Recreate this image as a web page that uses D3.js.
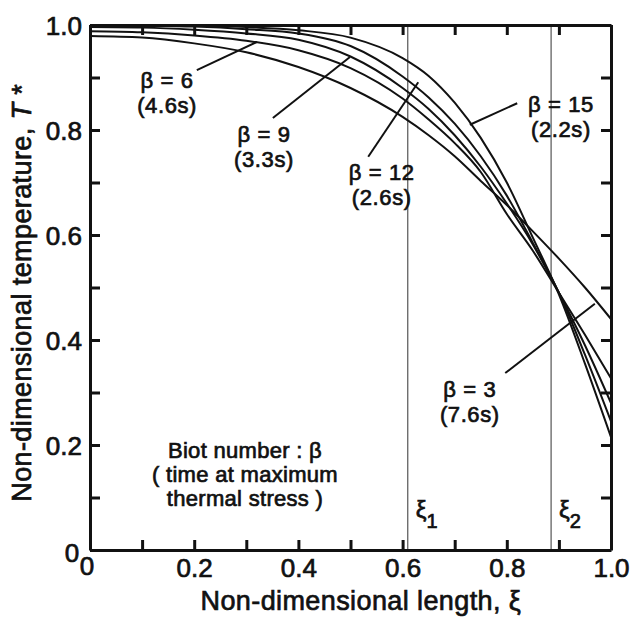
<!DOCTYPE html>
<html>
<head>
<meta charset="utf-8">
<script src="https://cdnjs.cloudflare.com/ajax/libs/d3/7.8.5/d3.min.js"></script>
<style>
  body { margin: 0; background: #fff; }
  svg text { font-family: "Liberation Sans", Arial, sans-serif; fill: #111; stroke: #111; stroke-width: 0.7px; }
</style>
</head>
<body>
<svg id="profile-chart" width="635" height="619"></svg>
<script>
// positions along the plate (non-dimensional length)
const xiValues = [0, 0.1, 0.2, 0.3, 0.4, 0.5, 0.6, 0.65, 0.7, 0.75, 0.8, 0.85, 0.9, 0.95, 1.0]

// temperature profiles, one per Biot number
const beta3  = [0.979, 0.976, 0.965, 0.948, 0.920, 0.880, 0.825, 0.790, 0.750, 0.703, 0.657, 0.607, 0.555, 0.500, 0.440]
const beta6  = [0.988, 0.986, 0.980, 0.970, 0.952, 0.918, 0.860, 0.820, 0.775, 0.720, 0.640, 0.570, 0.490, 0.410, 0.327]
const beta9  = [0.996, 0.995, 0.991, 0.984, 0.972, 0.940, 0.880, 0.840, 0.790, 0.730, 0.660, 0.582, 0.490, 0.390, 0.280]
const beta12 = [1.000, 0.999, 0.997, 0.992, 0.984, 0.960, 0.902, 0.862, 0.812, 0.750, 0.675, 0.585, 0.490, 0.372, 0.245]
const beta15 = [1.000, 1.000, 0.999, 0.996, 0.990, 0.976, 0.937, 0.903, 0.852, 0.785, 0.700, 0.595, 0.487, 0.355, 0.215]

const seriesNames = ["3", "6", "9", "12", "15"]
const seriesValues = [beta3, beta6, beta9, beta12, beta15]
const seriesTimes = ["7.6s", "4.6s", "3.3s", "2.6s", "2.2s"]

// label anchor (xi, T) and leader line (from -> to) for each series
const labelAnchors = [[0.729, 0.291], [0.148, 0.880], [0.334, 0.777], [0.560, 0.705], [0.904, 0.834]]
const leaderFrom = [[0.797, 0.337], [0.205, 0.914], [0.351, 0.823], [0.534, 0.749], [0.820, 0.851]]
const leaderTo   = [[0.969, 0.469], [0.321, 0.968], [0.499, 0.939], [0.630, 0.891], [0.729, 0.810]]

// positions of maximum stress
const xiMarks = [0.61, 0.885]
const xiMarkNames = ["1", "2"]

const tickValues = d3.range(0, 11).map(d => d / 10)
const labelValues = [0.2, 0.4, 0.6, 0.8, 1.0]
const legendLines = ["Biot number : β", "( time at maximum", "thermal stress )"]

let width = 635
let height = 619
let margin = { top: 25, right: 24, bottom: 69, left: 90 }
let svg = d3.select("#profile-chart")

let x = d3.scaleLinear()
    .domain([0, 1])
    .range([margin.left, width - margin.right])

let y = d3.scaleLinear()
    .domain([0, 1])
    .range([height - margin.bottom, margin.top])

svg.append("rect")
    .attr("width", width)
    .attr("height", height)
    .style("fill", "#fff")

// vertical marks xi1, xi2
svg.append("g")
  .attr("id", "xiMarks")
  .selectAll("line")
  .data(xiMarks)
  .join("line")
  .attr("x1", d => x(d))
  .attr("x2", d => x(d))
  .attr("y1", y(1))
  .attr("y2", y(0))
  .style("stroke", "#333")
  .style("stroke-width", "1px")

svg.append("g")
  .attr("id", "xiLabels")
  .selectAll("text")
  .data(xiMarks)
  .join("text")
  .attr("x", d => x(d) + 8)
  .attr("y", y(0) - 32)
  .style("font-size", "24px")
  .text("ξ")
  .append("tspan")
  .attr("dy", 10)
  .style("font-size", "20px")
  .text((d, i) => xiMarkNames[i])

// curves
let line = d3.line()
    .x((d, i) => x(xiValues[i]))
    .y(d => y(d))
    .curve(d3.curveMonotoneX)

svg.append("g")
  .attr("id", "profiles")
  .selectAll("path")
  .data(seriesValues)
  .join("path")
  .attr("d", d => line(d))
  .style("fill", "none")
  .style("stroke", "#111")
  .style("stroke-width", "2px")

// leader lines
svg.append("g")
  .attr("id", "leaders")
  .selectAll("line")
  .data(seriesNames)
  .join("line")
  .attr("x1", (d, i) => x(leaderFrom[i][0]))
  .attr("y1", (d, i) => y(leaderFrom[i][1]))
  .attr("x2", (d, i) => x(leaderTo[i][0]))
  .attr("y2", (d, i) => y(leaderTo[i][1]))
  .style("stroke", "#111")
  .style("stroke-width", "2px")

let seriesLabels = svg.append("g")
  .attr("id", "seriesLabels")
  .selectAll("text")
  .data(seriesNames)
  .join("text")
  .attr("text-anchor", "middle")
  .attr("x", (d, i) => x(labelAnchors[i][0]))
  .attr("y", (d, i) => y(labelAnchors[i][1]))
  .style("font-size", "22px")
  .style("letter-spacing", "0.6px")

seriesLabels.append("tspan")
  .text(d => "β = " + d)
seriesLabels.append("tspan")
  .attr("x", (d, i) => x(labelAnchors[i][0]))
  .attr("dy", 25)
  .text((d, i) => "(" + seriesTimes[i] + ")")

// legend note
svg.append("text")
  .attr("id", "legendNote")
  .attr("text-anchor", "middle")
  .style("font-size", "22px")
  .style("letter-spacing", "0.3px")
  .selectAll("tspan")
  .data(legendLines)
  .join("tspan")
  .attr("x", x(0.2975))
  .attr("y", (d, i) => y(0.175) + i * 24)
  .text(d => d)

// frame with inward ticks on all four sides
let axes = [
  { gen: d3.axisLeft(y), pos: `translate(${x(0)},0)` },
  { gen: d3.axisRight(y), pos: `translate(${x(1)},0)` },
  { gen: d3.axisBottom(x), pos: `translate(0,${y(0)})` },
  { gen: d3.axisTop(x), pos: `translate(0,${y(1)})` }
]
axes.forEach(a => {
  let g = svg.append("g")
    .attr("class", "frame axis")
    .attr("transform", a.pos)
    .call(a.gen.tickValues(tickValues).tickSizeInner(-10).tickSizeOuter(0).tickFormat(""))
  g.select(".domain").style("stroke", "#111").style("stroke-width", "3px")
  g.selectAll(".tick line").style("stroke", "#111").style("stroke-width", "3px")
})

let yLabels = svg.append("g")
    .attr("transform", `translate(${x(0)},0)`)
    .call(d3.axisLeft(y).tickValues(labelValues).tickSize(0).tickPadding(8).tickFormat(d3.format(".1f")))
yLabels.select(".domain").remove()
yLabels.selectAll("text")
    .style("font-size", "26px")
    .style("font-family", "Liberation Sans")
    .attr("dy", "0.36em")

let xLabels = svg.append("g")
    .attr("transform", `translate(0,${y(0)})`)
    .call(d3.axisBottom(x).tickValues(labelValues).tickSize(0).tickPadding(8).tickFormat(d3.format(".1f")))
xLabels.select(".domain").remove()
xLabels.selectAll("text")
    .style("font-size", "26px")
    .style("font-family", "Liberation Sans")
    .attr("dy", null)
    .attr("y", 27)

// the two zeros at the corner
svg.append("text")
  .attr("text-anchor", "middle")
  .attr("x", x(0) - 18)
  .attr("y", y(0) + 12)
  .style("font-size", "26px")
  .text("0")

svg.append("text")
  .attr("text-anchor", "middle")
  .attr("x", x(0) - 3)
  .attr("y", y(0) + 25)
  .style("font-size", "26px")
  .text("0")

// axis titles
svg.append("text")
  .attr("text-anchor", "middle")
  .attr("x", x(0.52))
  .attr("y", height - 9)
  .style("font-size", "27px")
  .style("letter-spacing", "0.4px")
  .text("Non-dimensional length, ξ")

let yTitle = svg.append("text")
  .attr("text-anchor", "middle")
  .attr("transform", `translate(31,${y(0.49)}) rotate(-90)`)
  .style("font-size", "27px")
  .style("letter-spacing", "0.4px")
  .text("Non-dimensional temperature, ")
yTitle.append("tspan")
  .style("font-style", "italic")
  .text("T")
yTitle.append("tspan")
  .text(" *")
</script>
</body>
</html>
